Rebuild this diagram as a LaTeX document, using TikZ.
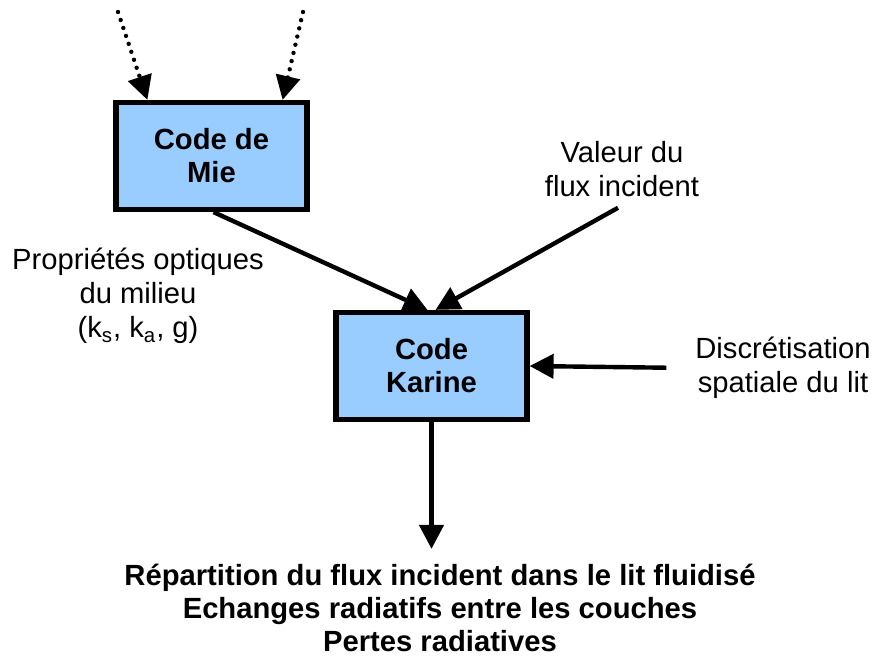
\documentclass[tikz,border=0pt]{standalone}
\usepackage{fontspec}
\setmainfont{Liberation Sans}
\usepackage{tikz}
\usetikzlibrary{positioning,arrows.meta}
\definecolor{boxblue}{HTML}{99CCFF}

\begin{document}
\begin{tikzpicture}[x=0.5pt,y=-0.5pt,
    font=\fontsize{14.6}{17}\selectfont,
    codebox/.style={draw=black,line width=2.6pt,fill=boxblue,minimum width=95.5pt,minimum height=53.5pt,align=center,font=\fontsize{14.6}{16.5}\selectfont\bfseries},
    flow/.style={line width=2.2pt,-{Triangle[length=12pt,width=12pt]}},
    feed/.style={flow,dash pattern=on 0pt off 4.2pt,line cap=round},
    txt/.style={align=center}]
  \useasboundingbox (0,0) rectangle (873,657);
  % the two codes
  \node[codebox] (mie) at (211.5,156) {Code de\\Mie};
  \node[codebox] (karine) at (431.5,366) {Code\\Karine};
  % inputs and outputs
  \node[txt] (valeur) at (622,169) {Valeur du\\flux incident};
  \node[txt] (optique) at (138,296) {Propriétés optiques\\du milieu\\(k\textsubscript{s}, k\textsubscript{a}, g)};
  \node[txt] (discret) at (783,368) {Discrétisation\\spatiale du lit};
  \node[txt,font=\fontsize{14.6}{16.6}\selectfont\bfseries] (result) at (440,608) {Répartition du flux incident dans le lit fluidisé\\Echanges radiatifs entre les couches\\Pertes radiatives};
  \coordinate (inA) at (118,12);
  \coordinate (inB) at (303,12);
  % connectors
  \draw[feed] (inA) -- ([xshift=17pt]mie.north west);
  \draw[feed] (inB) -- ([xshift=-13.5pt]mie.north east);
  \draw[flow] ([xshift=1pt]mie.south) -- ([xshift=-2pt]karine.north);
  \draw[flow] ([xshift=-2pt,yshift=-2pt]valeur.south) -- ([xshift=2pt]karine.north);
  \draw[flow,shorten <=11pt] (discret.west) -- (karine.east);
  \draw[flow,shorten >=4pt] (karine.south) -- (result.north -| karine.south);
\end{tikzpicture}
\end{document}
